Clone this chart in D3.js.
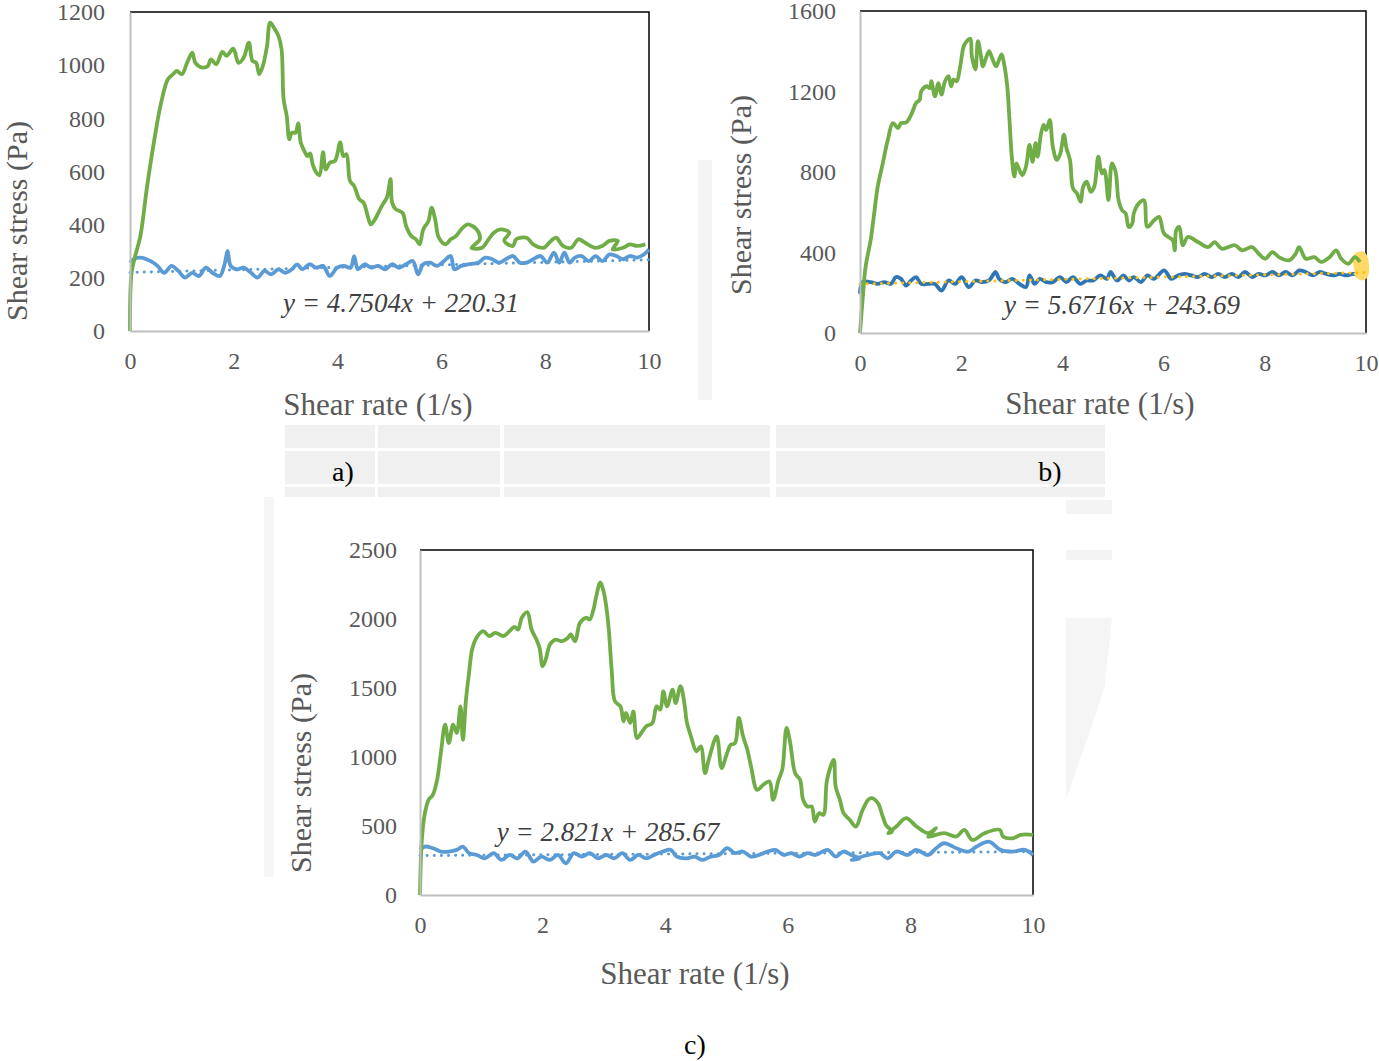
<!DOCTYPE html>
<html>
<head>
<meta charset="utf-8">
<script src="https://cdn.jsdelivr.net/npm/d3@7"></script>
<style>
  body { margin: 0; background: #fff; }
  text { font-family: "Liberation Serif", "Times New Roman", serif; }
</style>
</head>
<body>
<div id="chart"></div>
<script>
var width = 1379;
var height = 1061;

// shared x ticks
var xTicks = [0, 2, 4, 6, 8, 10];

// panel a)
var yTicksA = [0, 200, 400, 600, 800, 1000, 1200];
var greenA = [[0,0],[0.03,219],[0.10,282],[0.20,357],[0.33,545],[0.47,721],[0.60,859],[0.73,947],[0.83,966],[0.90,978],[1.00,966],[1.10,1009],[1.20,1047],[1.26,1009],[1.40,991],[1.50,997],[1.56,1022],[1.66,1003],[1.78,1050],[1.86,1035],[1.99,1062],[2.09,1009],[2.19,1028],[2.29,1085],[2.36,1016],[2.43,1009],[2.49,966],[2.56,997],[2.64,1072],[2.70,1160],[2.79,1135],[2.86,1110],[2.92,1060],[2.96,872],[3.02,809],[3.07,721],[3.12,746],[3.19,746],[3.24,781],[3.29,709],[3.36,677],[3.42,658],[3.47,668],[3.52,627],[3.59,596],[3.65,586],[3.72,673],[3.77,608],[3.85,633],[3.95,640],[4.05,709],[4.11,658],[4.17,665],[4.24,564],[4.32,545],[4.42,495],[4.50,483],[4.58,433],[4.64,401],[4.72,420],[4.85,470],[4.95,502],[5.02,571],[5.05,483],[5.12,458],[5.25,445],[5.32,395],[5.42,357],[5.51,345],[5.58,326],[5.65,382],[5.75,414],[5.81,464],[5.88,420],[5.95,351],[6.08,326],[6.18,345],[6.28,357],[6.38,382],[6.45,395],[6.51,401],[6.68,382],[6.74,345],[6.58,313],[6.78,313],[6.91,345],[7.01,370],[7.14,382],[7.31,370],[7.21,339],[7.38,320],[7.44,345],[7.64,351],[7.77,326],[7.97,313],[8.11,339],[8.21,351],[8.34,320],[8.50,313],[8.64,345],[8.77,332],[8.97,313],[9.10,320],[9.24,339],[9.40,339],[9.30,307],[9.50,313],[9.63,326],[9.77,320],[9.93,326]];
var blueA = [[0,257],[0.07,270],[0.20,276],[0.40,263],[0.53,245],[0.66,219],[0.80,245],[0.93,226],[1.06,201],[1.20,219],[1.33,207],[1.46,238],[1.59,219],[1.73,207],[1.83,257],[1.88,301],[1.94,245],[2.06,232],[2.19,238],[2.33,219],[2.46,201],[2.59,226],[2.72,213],[2.86,232],[2.99,219],[3.12,232],[3.22,251],[3.32,232],[3.46,251],[3.59,238],[3.72,245],[3.85,207],[3.99,238],[4.12,245],[4.25,238],[4.32,282],[4.39,232],[4.52,251],[4.65,238],[4.78,245],[4.92,232],[5.05,251],[5.18,238],[5.32,251],[5.45,263],[5.55,213],[5.65,251],[5.78,257],[5.91,245],[6.05,263],[6.18,282],[6.25,232],[6.38,245],[6.51,251],[6.71,257],[6.84,276],[6.98,270],[7.11,257],[7.24,270],[7.38,282],[7.51,257],[7.64,257],[7.77,270],[7.91,282],[8.04,257],[8.17,295],[8.27,257],[8.37,295],[8.47,257],[8.57,276],[8.70,282],[8.84,263],[8.97,282],[9.10,263],[9.24,288],[9.37,282],[9.50,270],[9.63,282],[9.77,276],[9.90,288],[10.0,307]];
var trendA = [4.7504, 220.31];

// panel b)
var yTicksB = [0, 400, 800, 1200, 1600];
var greenB = [[0,0],[0.05,161],[0.11,328],[0.21,461],[0.28,594],[0.35,727],[0.45,843],[0.55,960],[0.65,1043],[0.75,1018],[0.81,1043],[0.91,1046],[1.01,1084],[1.11,1143],[1.18,1159],[1.21,1201],[1.31,1226],[1.38,1217],[1.41,1251],[1.48,1176],[1.55,1242],[1.61,1184],[1.68,1251],[1.75,1276],[1.80,1226],[1.85,1259],[1.91,1251],[1.98,1325],[2.05,1425],[2.11,1450],[2.18,1462],[2.21,1375],[2.28,1309],[2.33,1450],[2.38,1392],[2.43,1325],[2.48,1359],[2.55,1400],[2.61,1367],[2.69,1325],[2.75,1359],[2.80,1384],[2.85,1334],[2.91,1226],[2.95,1076],[3.00,876],[3.05,777],[3.09,843],[3.15,810],[3.21,785],[3.28,827],[3.35,935],[3.41,851],[3.47,943],[3.51,876],[3.58,993],[3.63,1034],[3.68,1009],[3.75,1059],[3.81,926],[3.89,860],[3.96,893],[4.03,985],[4.08,918],[4.15,860],[4.21,718],[4.29,693],[4.36,652],[4.41,727],[4.48,752],[4.56,702],[4.63,727],[4.71,876],[4.78,793],[4.83,810],[4.91,660],[4.98,843],[5.05,802],[5.11,660],[5.18,610],[5.25,594],[5.31,527],[5.38,544],[5.41,594],[5.51,644],[5.61,660],[5.68,527],[5.81,560],[5.91,577],[6.01,494],[6.18,461],[6.22,411],[6.25,511],[6.31,527],[6.38,436],[6.48,477],[6.68,452],[6.88,427],[7.01,452],[7.15,419],[7.41,436],[7.55,411],[7.75,427],[7.88,394],[8.01,369],[8.15,402],[8.28,377],[8.48,361],[8.61,394],[8.68,427],[8.81,369],[8.98,377],[9.11,353],[9.28,377],[9.41,411],[9.51,369],[9.65,344],[9.78,377],[9.88,353]];
var blueB = [[0,195],[0.05,253],[0.21,253],[0.35,244],[0.48,253],[0.61,244],[0.71,278],[0.81,269],[0.91,236],[1.01,261],[1.11,278],[1.21,244],[1.35,244],[1.48,244],[1.61,211],[1.75,261],[1.88,244],[2.01,278],[2.15,228],[2.28,261],[2.41,253],[2.55,261],[2.68,303],[2.75,269],[2.88,253],[3.01,269],[3.15,244],[3.28,228],[3.35,286],[3.45,244],[3.55,269],[3.68,253],[3.81,253],[3.95,278],[4.08,253],[4.21,278],[4.35,244],[4.48,261],[4.61,261],[4.75,286],[4.88,269],[4.95,303],[5.08,261],[5.21,286],[5.31,261],[5.41,278],[5.55,253],[5.68,286],[5.81,269],[6.01,311],[6.15,269],[6.28,286],[6.41,294],[6.55,286],[6.68,278],[6.81,294],[6.95,278],[7.08,294],[7.21,278],[7.35,294],[7.48,278],[7.61,303],[7.75,278],[7.88,294],[8.01,286],[8.15,303],[8.28,286],[8.41,303],[8.55,286],[8.68,311],[8.81,303],[8.95,286],[9.08,303],[9.21,294],[9.35,286],[9.48,294],[9.61,286],[9.75,294],[9.88,286],[10.0,303]];
var yellowB = [[9.74,350],[9.8,385],[9.93,395],[10.0,370],[10.0,285],[9.9,272],[9.78,300]];
var trendB = [5.6716, 243.69];

// panel c)
var yTicksC = [0, 500, 1000, 1500, 2000, 2500];
var greenC = [[0,0],[0.03,399],[0.08,593],[0.14,690],[0.21,726],[0.28,835],[0.34,1029],[0.41,1234],[0.47,1101],[0.54,1234],[0.60,1174],[0.66,1367],[0.70,1125],[0.75,1416],[0.80,1609],[0.85,1779],[0.92,1863],[1.03,1912],[1.13,1876],[1.23,1900],[1.36,1876],[1.46,1912],[1.54,1943],[1.60,1924],[1.66,2009],[1.75,2050],[1.82,1924],[1.90,1851],[1.95,1791],[2.00,1658],[2.05,1706],[2.12,1815],[2.21,1851],[2.31,1839],[2.41,1863],[2.46,1888],[2.53,1839],[2.61,1972],[2.71,2009],[2.77,1997],[2.83,2069],[2.87,2154],[2.94,2263],[3.00,2190],[3.07,1972],[3.13,1609],[3.18,1404],[3.27,1367],[3.32,1258],[3.36,1319],[3.43,1246],[3.48,1331],[3.54,1137],[3.61,1174],[3.69,1222],[3.79,1246],[3.86,1367],[3.92,1343],[3.97,1476],[4.03,1367],[4.12,1488],[4.17,1391],[4.25,1513],[4.32,1367],[4.35,1258],[4.42,1150],[4.51,1041],[4.58,1077],[4.65,883],[4.71,980],[4.84,1150],[4.92,920],[5.01,1029],[5.07,1089],[5.14,1101],[5.20,1283],[5.27,1150],[5.34,1053],[5.40,932],[5.50,762],[5.60,799],[5.70,823],[5.76,690],[5.85,835],[5.91,908],[5.98,1210],[6.04,1101],[6.12,883],[6.20,835],[6.25,690],[6.32,641],[6.39,641],[6.44,532],[6.51,593],[6.58,581],[6.64,835],[6.75,980],[6.78,787],[6.85,690],[6.91,593],[7.01,545],[7.11,496],[7.21,605],[7.31,690],[7.37,702],[7.47,666],[7.54,581],[7.60,508],[7.70,460],[7.64,448],[7.77,496],[7.93,557],[8.10,496],[8.29,448],[8.42,484],[8.29,424],[8.55,448],[8.75,424],[8.88,472],[9.01,399],[9.21,448],[9.46,472],[9.51,424],[9.67,411],[9.80,436],[10.0,436]];
var blueC = [[0,327],[0.08,351],[0.21,339],[0.34,315],[0.47,315],[0.60,327],[0.70,351],[0.80,303],[0.93,290],[1.06,266],[1.20,303],[1.33,254],[1.46,290],[1.59,266],[1.72,315],[1.85,242],[1.98,278],[2.12,254],[2.25,290],[2.38,230],[2.51,303],[2.64,278],[2.77,303],[2.90,266],[3.04,290],[3.17,266],[3.30,303],[3.43,254],[3.56,290],[3.69,266],[3.82,290],[3.96,315],[4.09,327],[4.19,278],[4.35,266],[4.48,278],[4.61,254],[4.74,278],[4.88,290],[5.01,339],[5.14,303],[5.27,315],[5.40,278],[5.53,290],[5.67,315],[5.80,327],[5.93,290],[6.06,303],[6.19,278],[6.32,303],[6.45,290],[6.65,327],[6.78,278],[6.91,315],[7.04,290],[7.17,266],[7.04,254],[7.31,290],[7.50,303],[7.63,266],[7.77,315],[7.96,290],[8.09,327],[8.29,290],[8.42,339],[8.55,375],[8.75,339],[8.95,315],[9.08,351],[9.28,387],[9.47,327],[9.67,315],[9.87,327],[10.0,290]];
var trendC = [2.821, 285.67];

var svg = d3
  .select("#chart")
  .append("svg")
  .attr("width", width)
  .attr("height", height);

// faint watermark behind the panels
var wm = svg.append("g").attr("fill", "#f0f0f0");
wm.append("rect").attr("x", 285).attr("y", 425).attr("width", 820).attr("height", 72);
wm.append("rect").attr("x", 698).attr("y", 160).attr("width", 14).attr("height", 240).attr("fill", "#f4f4f4");
wm.append("rect").attr("x", 264).attr("y", 497).attr("width", 10).attr("height", 380).attr("fill", "#f6f6f6");
wm.append("rect").attr("x", 1066).attr("y", 500).attr("width", 46).attr("height", 14).attr("fill", "#f4f4f4");
wm.append("rect").attr("x", 1066).attr("y", 550).attr("width", 46).attr("height", 10).attr("fill", "#f4f4f4");
wm.append("path").attr("d", "M1066,618H1112L1104,690L1066,800Z").attr("fill", "#f5f5f5");
var gaps = svg.append("g").attr("fill", "#fff");
gaps.append("rect").attr("x", 280).attr("y", 448).attr("width", 830).attr("height", 3);
gaps.append("rect").attr("x", 280).attr("y", 484).attr("width", 830).attr("height", 3);
gaps.append("rect").attr("x", 375).attr("y", 425).attr("width", 3).attr("height", 72);
gaps.append("rect").attr("x", 500).attr("y", 425).attr("width", 4).attr("height", 72);
gaps.append("rect").attr("x", 770).attr("y", 425).attr("width", 6).attr("height", 72);

function drawPanel(p) {
  var x = d3.scaleLinear().domain([0, 10]).range([p.left, p.right]);
  var y = d3.scaleLinear().domain([0, p.yMax]).range([p.bottom, p.top]);
  var g = svg.append("g");

  // frame: black on top/right, grey axes on left/bottom
  g.append("path")
    .attr("d", "M" + p.left + "," + p.top + "H" + p.right + "V" + p.bottom)
    .attr("fill", "none")
    .attr("stroke", "#000")
    .attr("stroke-width", 1.5);

  var line = d3
    .line()
    .x(function(d) { return x(d[0]); })
    .y(function(d) { return y(d[1]); })
    .curve(d3.curveCatmullRom.alpha(0.5));

  g.append("path")
    .datum(p.blue)
    .attr("d", line)
    .attr("fill", "none")
    .attr("stroke", p.blueColor)
    .attr("stroke-width", 3.8)
    .attr("stroke-linejoin", "round");

  if (p.yellow) {
    g.append("path")
      .datum(p.yellow)
      .attr("d", line)
      .attr("fill", "#ffd966")
      .attr("stroke", "#ffd966")
      .attr("stroke-width", 4)
      .attr("stroke-linejoin", "round");
  }

  g.append("path")
    .datum(p.green)
    .attr("d", line)
    .attr("fill", "none")
    .attr("stroke", "#70ad47")
    .attr("stroke-width", 3.8)
    .attr("stroke-linejoin", "round");

  // linear trend line
  g.append("line")
    .attr("x1", x(0))
    .attr("y1", y(p.trend[1]))
    .attr("x2", x(10))
    .attr("y2", y(p.trend[0] * 10 + p.trend[1]))
    .attr("stroke", p.trendColor)
    .attr("stroke-width", 3)
    .attr("stroke-linecap", "round")
    .attr("stroke-dasharray", "0.1,7");

  var yAxis = d3.axisLeft(y).tickValues(p.yTicks).tickFormat(d3.format("d"))
    .tickSize(0).tickPadding(p.left - p.tickRight);
  var ya = g.append("g").attr("transform", "translate(" + p.left + ",0)").call(yAxis);
  ya.select(".domain").attr("stroke", "#bfbfbf").attr("stroke-width", 2);
  ya.selectAll("text").attr("fill", "#595959").style("font-size", "24px");

  var xAxis = d3.axisBottom(x).tickValues(xTicks).tickSize(0).tickPadding(21);
  var xa = g.append("g").attr("transform", "translate(0," + p.bottom + ")").call(xAxis);
  xa.select(".domain").attr("stroke", "#bfbfbf").attr("stroke-width", 2);
  xa.selectAll("text").attr("fill", "#595959").style("font-size", "24px");

  g.append("text")
    .attr("x", p.xTitle[0])
    .attr("y", p.xTitle[1])
    .attr("text-anchor", "middle")
    .attr("dy", "0.35em")
    .attr("fill", "#595959")
    .style("font-size", "31px")
    .text("Shear rate (1/s)");

  g.append("text")
    .attr("transform", "translate(" + p.yTitle[0] + "," + p.yTitle[1] + ") rotate(-90)")
    .attr("text-anchor", "middle")
    .attr("dy", "0.35em")
    .attr("fill", "#595959")
    .style("font-size", "30px")
    .text("Shear stress (Pa)");

  g.append("text")
    .attr("x", p.eq[0])
    .attr("y", p.eq[1])
    .attr("text-anchor", "middle")
    .attr("dy", "0.35em")
    .attr("fill", "#404040")
    .style("font-size", "27px")
    .style("font-style", "italic")
    .text(p.eqText);

  g.append("text")
    .attr("x", p.tag[0])
    .attr("y", p.tag[1])
    .attr("text-anchor", "middle")
    .attr("dy", "0.35em")
    .attr("fill", "#000")
    .style("font-size", "28px")
    .text(p.tagText);
}

drawPanel({
  left: 130, right: 649, top: 12, bottom: 331, yMax: 1200, tickRight: 105,
  yTicks: yTicksA, green: greenA, blue: blueA, blueColor: "#5b9bd5",
  trend: trendA, trendColor: "#5b9bd5",
  xTitle: [378, 404], yTitle: [16, 221],
  eq: [401, 303], eqText: "y = 4.7504x + 220.31",
  tag: [343, 471], tagText: "a)"
});

drawPanel({
  left: 860, right: 1366, top: 11, bottom: 333, yMax: 1600, tickRight: 836,
  yTicks: yTicksB, green: greenB, blue: blueB, blueColor: "#2e75b6",
  yellow: yellowB,
  trend: trendB, trendColor: "#ffc000",
  xTitle: [1100, 403], yTitle: [740, 195],
  eq: [1122, 305], eqText: "y = 5.6716x + 243.69",
  tag: [1050, 471], tagText: "b)"
});

drawPanel({
  left: 420, right: 1033, top: 550, bottom: 895, yMax: 2500, tickRight: 397,
  yTicks: yTicksC, green: greenC, blue: blueC, blueColor: "#5b9bd5",
  trend: trendC, trendColor: "#5b9bd5",
  xTitle: [695, 973], yTitle: [300, 773],
  eq: [608, 832], eqText: "y = 2.821x + 285.67",
  tag: [695, 1044], tagText: "c)"
});
</script>
</body>
</html>
